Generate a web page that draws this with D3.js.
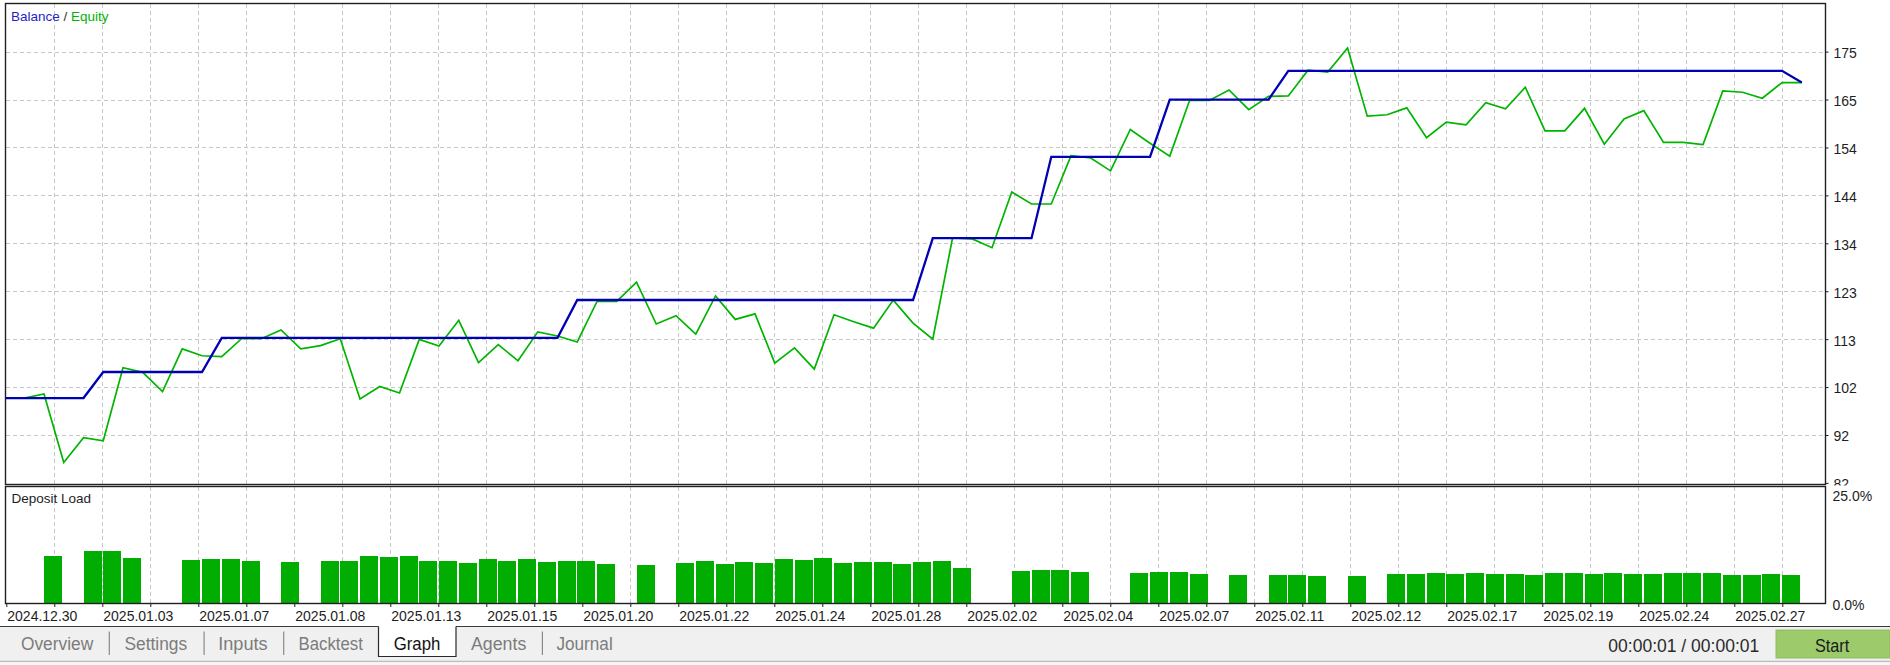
<!DOCTYPE html>
<html><head><meta charset="utf-8">
<script src="https://cdn.jsdelivr.net/npm/d3@7"></script>
<style>
html,body{margin:0;padding:0;background:#fff;overflow:hidden;}
svg{display:block;}
text{font-family:"Liberation Sans",Arial,sans-serif;}
</style></head><body>
<svg id="c" width="1890" height="665"></svg>
<script>
// ---------------- data ----------------
const balance = [
 100.0,100.0,100.0,100.0,100.0,
 105.66,105.66,105.66,105.66,105.66,105.66,
 113.09,113.09,113.09,113.09,113.09,113.09,113.09,113.09,113.09,113.09,113.09,113.09,113.09,113.09,113.09,113.09,113.09,113.09,
 121.32,121.32,121.32,121.32,121.32,121.32,121.32,121.32,121.32,121.32,121.32,121.32,121.32,121.32,121.32,121.32,121.32,121.32,
 134.76,134.76,134.76,134.76,134.76,134.76,
 152.45,152.45,152.45,152.45,152.45,152.45,
 164.87,164.87,164.87,164.87,164.87,164.87,
 171.15,171.15,171.15,171.15,171.15,171.15,171.15,171.15,171.15,171.15,171.15,171.15,171.15,
 171.15,171.15,171.15,171.15,171.15,171.15,171.15,171.15,171.15,171.15,171.15,171.15,171.15,
 168.64
];
const equity = [
 100.0,100.0,100.9,86.0,91.4,90.7,106.6,105.6,101.4,110.7,
 109.2,109.0,112.9,112.9,114.8,110.7,111.4,112.9,99.8,102.5,
 101.1,112.75,111.3,116.9,107.7,111.6,108.1,114.4,113.5,112.2,
 121.0,121.0,125.2,116.1,117.9,113.9,122.2,117.1,118.3,107.6,
 110.9,106.3,118.1,116.6,115.2,121.3,116.3,112.8,134.8,134.6,
 132.7,144.8,142.2,142.2,152.7,152.2,149.4,158.4,155.4,152.6,
 164.7,164.7,167.0,162.7,165.6,165.7,171.3,170.9,176.1,161.3,
 161.6,163.1,156.6,160.0,159.4,164.2,162.9,167.6,158.1,158.1,
 163.0,155.2,160.7,162.5,155.6,155.6,155.1,166.8,166.5,165.2,
 168.6,168.6
];
// deposit load (%) per deal slot, 0 = no bar
const depositLoad = [
 0,0,10.15,0,11.2,11.2,9.7,0,0,9.3,
 9.5,9.5,9.1,0,8.9,0,9.1,9.1,10.15,9.9,
 10.15,9.1,9.1,8.65,9.5,9.1,9.5,8.9,9.1,9.1,
 8.45,0,8.2,0,8.65,9.1,8.45,8.9,8.65,9.5,
 9.3,9.7,8.65,8.9,8.9,8.45,8.9,9.1,7.6,0,
 0,6.95,7.2,7.2,6.7,0,0,6.5,6.7,6.7,
 6.3,0,6.1,0,6.1,6.1,5.9,0,5.9,0,
 6.3,6.3,6.5,6.3,6.5,6.3,6.3,6.1,6.5,6.5,
 6.3,6.5,6.3,6.3,6.5,6.5,6.5,6.1,6.1,6.3,
 6.1
];
const xTickLabels = ["2024.12.30","2025.01.03","2025.01.07","2025.01.08","2025.01.13","2025.01.15",
 "2025.01.20","2025.01.22","2025.01.24","2025.01.28","2025.02.02","2025.02.04","2025.02.07",
 "2025.02.11","2025.02.12","2025.02.17","2025.02.19","2025.02.24","2025.02.27"];
const yTickLabels = ["82","92","102","113","123","134","144","154","165","175"];
const yAxisMin = 81.55, yAxisStep = 10.42;
const depTickLabels = ["0.0%","25.0%"];
const depTickValues = [0,25];
const tabs = ["Overview","Settings","Inputs","Backtest","Graph","Agents","Journal"];

// ---------------- layout ----------------
const svg = d3.select("#c");
const L = 5.5, R = 1825.5, mainTop = 3.5, mainBot = 484.5, depTop = 486.5, depBot = 603.5;
const BLUE = "#0000b4", GREEN = "#00b400", BAR = "#00ad00", GRID = "#c8c8c8", INK = "#1e1e1e";

const yTickValues = yTickLabels.map((_, i) => yAxisMin + i * yAxisStep);
const x = d3.scaleLinear().domain([0, 92.19]).range([4.5, 1825.3]);
const y = d3.scaleLinear().domain([yAxisMin, yAxisMin + 10 * yAxisStep]).range([482.9, 3.7]);
const yd = d3.scaleLinear().domain([0, 25]).range([603.2, 486.5]);
const gx = d3.scaleLinear().domain([0, 38]).range([6.3, 6.3 + 48 * 38]);
const gridK = d3.range(1, 38);

svg.append("rect").attr("width", 1890).attr("height", 665).attr("fill", "#fff");

const defs = svg.append("defs");
defs.append("clipPath").attr("id", "mainClip").append("rect")
  .attr("x", L).attr("y", mainTop).attr("width", R - L).attr("height", mainBot - mainTop);
defs.append("clipPath").attr("id", "labClip").append("rect")
  .attr("x", 1826).attr("y", 0).attr("width", 64).attr("height", 485.6);

// vertical grid (both panels)
const gridG = svg.append("g").attr("stroke", GRID).attr("stroke-width", 1)
  .attr("stroke-dasharray", "4,3").attr("shape-rendering", "crispEdges");
gridG.selectAll("line.vm").data(gridK).join("line").attr("class", "vm")
  .attr("x1", k => Math.round(gx(k)) + 0.5).attr("x2", k => Math.round(gx(k)) + 0.5)
  .attr("y1", mainTop).attr("y2", mainBot);
gridG.selectAll("line.vd").data(gridK).join("line").attr("class", "vd")
  .attr("x1", k => Math.round(gx(k)) + 0.5).attr("x2", k => Math.round(gx(k)) + 0.5)
  .attr("y1", depTop).attr("y2", depBot);
// horizontal grid (main)
gridG.selectAll("line.h").data(yTickValues.slice(1)).join("line").attr("class", "h")
  .attr("x1", L).attr("x2", R)
  .attr("y1", d => Math.round(y(d)) + 0.5).attr("y2", d => Math.round(y(d)) + 0.5);

// deposit bars
const step = x(1) - x(0);
svg.append("g").attr("shape-rendering", "crispEdges").selectAll("rect")
  .data(depositLoad.map((v, i) => ({v, i})).filter(d => d.v > 0))
  .join("rect")
  .attr("x", d => Math.round(x(d.i)))
  .attr("width", Math.round(step) - 2)
  .attr("y", d => Math.round(yd(d.v)))
  .attr("height", d => 603 - Math.round(yd(d.v)))
  .attr("fill", BAR);

// lines
const line = d3.line().x((d, i) => x(i)).y(d => y(d));
const lg = svg.append("g").attr("clip-path", "url(#mainClip)");
lg.append("path").datum(equity).attr("d", line).attr("fill", "none")
  .attr("stroke", GREEN).attr("stroke-width", 1.7);
lg.append("path").datum(balance).attr("d", line).attr("fill", "none")
  .attr("stroke", BLUE).attr("stroke-width", 2.3);

// borders
svg.append("rect").attr("x", L).attr("y", mainTop).attr("width", R - L).attr("height", mainBot - mainTop)
  .attr("fill", "none").attr("stroke", "#202020").attr("stroke-width", 1.4);
svg.append("rect").attr("x", L).attr("y", depTop).attr("width", R - L).attr("height", depBot - depTop)
  .attr("fill", "none").attr("stroke", "#202020").attr("stroke-width", 1.4);

// right y axis (main) - clipped at the bottom of the main panel
const yAxis = d3.axisRight(y).tickValues(yTickValues)
  .tickFormat((d, i) => yTickLabels[i]).tickSize(3).tickPadding(5);
const yAx = svg.append("g").attr("clip-path", "url(#labClip)")
  .append("g").attr("transform", `translate(${R},0)`).call(yAxis);
yAx.select(".domain").remove();
yAx.selectAll(".tick line").attr("stroke", INK);
yAx.selectAll(".tick text").attr("font-size", 14).attr("fill", INK)
  .attr("font-family", "Liberation Sans, Arial, sans-serif").attr("dy", "0.42em");

// right y axis (deposit)
const dAxis = d3.axisRight(yd).tickValues(depTickValues)
  .tickFormat((d, i) => depTickLabels[i]).tickSize(0).tickPadding(7);
const dAx = svg.append("g").attr("transform", `translate(${R},0)`).call(dAxis);
dAx.select(".domain").remove();
dAx.selectAll(".tick text").attr("font-size", 14).attr("fill", INK)
  .attr("font-family", "Liberation Sans, Arial, sans-serif")
  .attr("dy", d => d === 25 ? "0.98em" : "0.42em");

// bottom axis
const xAxis = d3.axisBottom(gx).tickValues(d3.range(0, 38)).tickSize(3).tickFormat("");
const xAx = svg.append("g").attr("transform", `translate(0,${depBot + 0.5})`).call(xAxis);
xAx.select(".domain").remove();
xAx.selectAll(".tick line").attr("stroke", INK);
svg.append("g").selectAll("text").data(xTickLabels).join("text")
  .attr("x", (d, i) => gx(i * 2) + 1).attr("y", 621)
  .attr("font-size", 14).attr("fill", INK).text(d => d);

// titles
const t1 = svg.append("text").attr("x", 11).attr("y", 20.5).attr("font-size", 13.5);
t1.append("tspan").attr("fill", "#1f1fc4").text("Balance");
t1.append("tspan").attr("fill", "#333").text(" / ");
t1.append("tspan").attr("fill", GREEN).text("Equity");
svg.append("text").attr("x", 11.5).attr("y", 503.3).attr("font-size", 13.5).attr("fill", INK).text("Deposit Load");

// ---------------- bottom tab strip ----------------
svg.append("rect").attr("x", 0).attr("y", 627).attr("width", 1890).attr("height", 38).attr("fill", "#f0f0f0");
svg.append("line").attr("x1", 0).attr("x2", 1890).attr("y1", 626.5).attr("y2", 626.5)
  .attr("stroke", "#3a3a3a").attr("stroke-width", 1);
svg.append("line").attr("x1", 0).attr("x2", 1890).attr("y1", 661.5).attr("y2", 661.5)
  .attr("stroke", "#bdbdbd").attr("stroke-width", 1.3);
svg.append("rect").attr("x", 0).attr("y", 662.2).attr("width", 1890).attr("height", 3).attr("fill", "#f7f7f7");

// active "Graph" tab box
svg.append("rect").attr("x", 378.5).attr("y", 625).attr("width", 77.5).attr("height", 31.7).attr("fill", "#fff");
svg.append("path").attr("d", "M378.5,626.5 V656.5 H456 V626.5").attr("fill", "none")
  .attr("stroke", "#2a2a2a").attr("stroke-width", 1.2);

const tabX = [20.9, 124.5, 218.2, 298.5, 393.7, 470.9, 556.5];
const tabW = [72.3, 62.7, 49.4, 64.3, 46.6, 55.4, 56.2];
svg.append("g").selectAll("text").data(tabs).join("text")
  .attr("x", (d, i) => tabX[i]).attr("y", 649.5)
  .attr("font-size", 17.5)
  .attr("textLength", (d, i) => tabW[i]).attr("lengthAdjust", "spacingAndGlyphs")
  .attr("fill", d => d === "Graph" ? "#111" : "#7c7c7c").text(d => d);
const sepX = [109.3, 204.1, 283.7, 542.4];
svg.append("g").selectAll("line").data(sepX).join("line")
  .attr("x1", d => d).attr("x2", d => d).attr("y1", 631.5).attr("y2", 655)
  .attr("stroke", "#8a8a8a").attr("stroke-width", 1.2);

svg.append("text").attr("x", 1608.3).attr("y", 652).attr("font-size", 17.5)
  .attr("textLength", 151).attr("lengthAdjust", "spacingAndGlyphs")
  .attr("fill", "#2a2a2a").text("00:00:01 / 00:00:01");
svg.append("rect").attr("x", 1776).attr("y", 630).attr("width", 114).attr("height", 28)
  .attr("fill", "#9dcb6b").attr("stroke", "#8fbd5e").attr("stroke-width", 1);
svg.append("text").attr("x", 1815).attr("y", 652).attr("font-size", 17.5)
  .attr("textLength", 34.3).attr("lengthAdjust", "spacingAndGlyphs")
  .attr("fill", "#1a1a1a").text("Start");
</script>
</body></html>
